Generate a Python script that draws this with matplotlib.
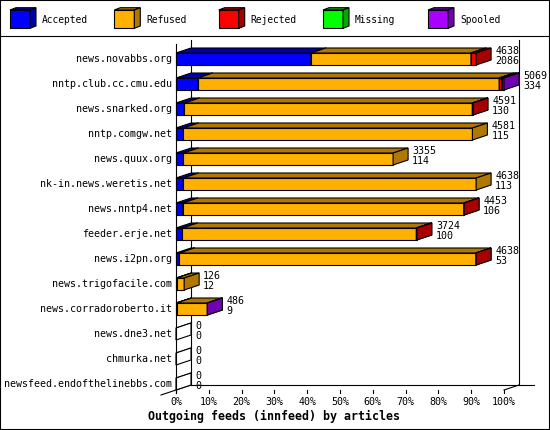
import matplotlib
matplotlib.use("Agg")
import matplotlib.pyplot as plt
from matplotlib.patches import Polygon, Rectangle

# data: articles per outgoing feed
feeds = ["news.novabbs.org", "nntp.club.cc.cmu.edu", "news.snarked.org",
         "nntp.comgw.net", "news.quux.org", "nk-in.news.weretis.net",
         "news.nntp4.net", "feeder.erje.net", "news.i2pn.org",
         "news.trigofacile.com", "news.corradoroberto.it", "news.dne3.net",
         "chmurka.net", "newsfeed.endofthelinebbs.com"]
accepted = [2086, 334, 130, 115, 114, 113, 106, 100, 53, 12, 9, 0, 0, 0]
refused = [2472, 4660, 4449, 4466, 3241, 4525, 4342, 3614, 4582, 114, 474, 0, 0, 0]
rejected = [80, 40, 12, 0, 0, 0, 5, 10, 3, 0, 0, 0, 0, 0]
missing = [0, 0, 0, 0, 0, 0, 0, 0, 0, 0, 0, 0, 0, 0]
spooled = [0, 35, 0, 0, 0, 0, 0, 0, 0, 0, 3, 0, 0, 0]
series_names = ["Accepted", "Refused", "Rejected", "Missing", "Spooled"]
tick_pcts = list(range(0, 101, 10))
title = "Outgoing feeds (innfeed) by articles"

face_cols = ["#0000ff", "#ffb000", "#ff0000", "#00ff00", "#aa00ff"]
dark_cols = ["#0000a8", "#b07800", "#a80000", "#00a800", "#7000b0"]

W, H = 550, 430
PX_PCT = 3.28   # pixels per percent
PX_ROW = 25.0   # pixels per row
X0, Y0 = 176, 59
DX = 15 / PX_PCT
DY = -5 / PX_ROW
HH = 6 / PX_ROW
MONO = "DejaVu Sans Mono"
LW = 0.8

fig = plt.figure(figsize=(W / 100, H / 100), dpi=100)
ax = fig.add_axes([0, 0, 1, 1])
ax.set_xlim(-X0 / PX_PCT, (W - X0) / PX_PCT)
ax.set_ylim((H - Y0) / PX_ROW, -Y0 / PX_ROW)
ax.set_xticks([])
ax.set_yticks([])
for s in ax.spines.values():
    s.set_linewidth(1.5)
    s.set_color("black")


def box(a, x0, x1, yc, hh, dx, dy, face, dark):
    a.add_patch(Rectangle((x0, yc - hh), x1 - x0, 2 * hh, facecolor=face,
                          edgecolor="black", lw=LW, zorder=3))
    a.add_patch(Polygon([(x0, yc - hh), (x1, yc - hh), (x1 + dx, yc - hh + dy),
                         (x0 + dx, yc - hh + dy)], closed=True, facecolor=dark,
                        edgecolor="black", lw=LW, zorder=3))
    a.add_patch(Polygon([(x1, yc - hh), (x1, yc + hh), (x1 + dx, yc + hh + dy),
                         (x1 + dx, yc - hh + dy)], closed=True, facecolor=dark,
                        edgecolor="black", lw=LW, zorder=3))


# frame / walls
floor_front = len(feeds) - 1 + HH
floor_back = floor_front + DY
top_back = (40 - Y0) / PX_ROW
top_front = (44 - Y0) / PX_ROW
kw = dict(color="black", lw=LW, zorder=2)
ax.plot([DX, DX], [top_back, floor_back], **kw)
ax.plot([100 + DX, 100 + DX], [top_back, floor_back], **kw)
ax.plot([DX, (534 - X0) / PX_PCT], [floor_back, floor_back], **kw)
ax.plot([-DX, DX], [floor_front - DY, floor_back], **kw)
ax.plot([100, 100 + DX], [floor_front, floor_back], **kw)
ax.plot([0, 0], [top_front, floor_front + 0.12], color="black", lw=LW, zorder=4)
ax.axhline((36 - Y0) / PX_ROW, color="black", lw=LW)

for p in tick_pcts:
    ax.plot([p, p], [floor_front, floor_front + 0.12], **kw)
    ax.text(p, floor_front + 0.48, f"{p}%", ha="center", va="center",
            family=MONO, fontsize=7.2)

series = [accepted, refused, rejected, missing, spooled]
totals = [sum(v) for v in zip(*series)]
vmax = max(totals)

for i, name in enumerate(feeds):
    ax.text(-4 / PX_PCT, i, name, ha="right", va="center", family=MONO, fontsize=7.2)
    left = 0.0
    if totals[i] == 0:
        box(ax, 0, 0, i, HH, DX, DY, "white", "white")
    for k, vals in enumerate(series):
        if vals[i] == 0:
            continue
        w = vals[i] / vmax * 100
        box(ax, left, left + w, i, HH, DX, DY, face_cols[k], dark_cols[k])
        left += w
    tx = totals[i] / vmax * 100 + DX + 4 / PX_PCT
    ax.text(tx, i - 0.31, f"{totals[i]}", ha="left", va="center", family=MONO, fontsize=7.2)
    ax.text(tx, i + 0.09, f"{accepted[i]}", ha="left", va="center", family=MONO, fontsize=7.2)

ax.text((274 - X0) / PX_PCT, (416 - Y0) / PX_ROW, title, ha="center", va="center",
        family=MONO, fontsize=8.4, fontweight="bold")

# legend strip
lg = fig.add_axes([0, 1 - 36 / H, 1, 36 / H])
lg.set_xlim(0, W)
lg.set_ylim(36, 0)
lg.axis("off")
leg_x = [10, 114.3, 218.7, 323, 428]
for k, name in enumerate(series_names):
    x = leg_x[k]
    lg.add_patch(Rectangle((x, 10), 20, 18.3, facecolor=face_cols[k],
                           edgecolor="black", lw=LW, zorder=3))
    lg.add_patch(Polygon([(x, 10), (x + 20, 10), (x + 26, 7.7), (x + 6, 7.7)],
                         facecolor=dark_cols[k], edgecolor="black", lw=LW, zorder=3))
    lg.add_patch(Polygon([(x + 20, 10), (x + 20, 28.3), (x + 26, 26), (x + 26, 7.7)],
                         facecolor=dark_cols[k], edgecolor="black", lw=LW, zorder=3))
    lg.text(x + 32, 20, name, ha="left", va="center", family=MONO, fontsize=6.9)

fig.savefig("out.png", dpi=100)
